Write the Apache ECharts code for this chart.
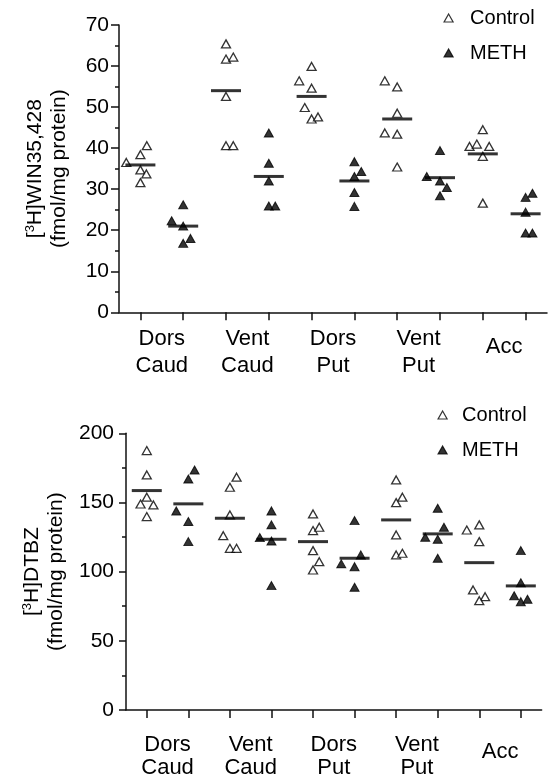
<!DOCTYPE html>
<html>
<head>
<meta charset="utf-8">
<script src="https://cdn.jsdelivr.net/npm/echarts@6/dist/echarts.min.js"></script>
<style>
    html, body{ margin: 0; padding: 0; background: #fff;}
    #chart{ width: 549px; height: 774px;}
</style>
</head>
<body>
<div id="chart"></div>
<script>
    // regions on the x axis, each one has a Control slot then a METH slot
    const regions = ['Dors\nCaud', 'Vent\nCaud', 'Dors\nPut', 'Vent\nPut', 'Acc'];
    const slots = ['1', '2', '3', '4', '5', '6', '7', '8', '9', '10'];

    // top panel: [3H]WIN35,428 binding, one inner list per region
    const winControl = [
        [36.5, 38.4, 40.6, 34.7, 33.7, 31.6],
        [65.4, 61.7, 62.2, 52.6, 40.6, 40.6],
        [59.9, 56.4, 54.6, 49.9, 47.1, 47.6],
        [56.4, 54.9, 48.5, 43.7, 43.4, 35.4],
        [44.5, 40.4, 41.0, 40.4, 38.0, 26.6]
    ];
    const winControlJitter = [
        [-0.33, 0, 0.15, 0, 0.14, 0],
        [0, 0, 0.17, 0, 0, 0.17],
        [0, -0.29, 0, -0.16, 0, 0.15],
        [-0.29, 0, 0, -0.29, 0, 0],
        [0, -0.31, -0.14, 0.15, 0, 0]
    ];
    const winMeth = [
        [22.3, 26.2, 21.0, 18.0, 16.8],
        [43.7, 36.3, 32.0, 25.9, 25.9],
        [36.7, 34.3, 33.1, 29.2, 25.8],
        [39.4, 33.1, 32.0, 30.4, 28.4],
        [28.0, 29.0, 24.4, 19.3, 19.3]
    ];
    const winMethJitter = [
        [-0.27, 0, 0, 0.17, 0],
        [0, 0, 0, 0, 0.15],
        [0, 0.16, 0, 0, 0],
        [0, -0.31, 0, 0.16, 0],
        [0, 0.16, 0, 0, 0.16]
    ];
    // group means, in slot order
    const winMeans = [35.9, 21.0, 54.0, 33.1, 52.6, 32.0, 47.1, 32.8, 38.6, 24.0];

    // bottom panel: [3H]DTBZ binding
    const dtbzControl = [
        [187.5, 169.9, 153.8, 148.9, 148.2, 139.8],
        [168.3, 161.0, 141.0, 126.0, 116.9, 116.9],
        [141.7, 129.7, 132.1, 115.2, 107.2, 101.2],
        [166.3, 153.8, 149.9, 126.5, 112.1, 113.3],
        [130.1, 133.8, 121.7, 86.8, 81.9, 79.0]
    ];
    const dtbzControlJitter = [
        [0, 0, 0, -0.15, 0.16, 0],
        [0.16, 0, 0, -0.16, 0, 0.16],
        [0, 0, 0.15, 0, 0.15, 0],
        [0, 0.15, 0, 0, 0, 0.15],
        [-0.3, 0, 0, -0.15, 0.14, 0]
    ];
    const dtbzMeth = [
        [173.5, 167.0, 143.9, 136.2, 121.7],
        [143.9, 133.8, 124.6, 122.2, 89.9],
        [136.9, 112.1, 105.6, 103.6, 88.7],
        [145.8, 132.1, 124.9, 123.4, 109.7],
        [115.2, 92.0, 82.6, 80.0, 78.3]
    ];
    const dtbzMethJitter = [
        [0.15, 0, -0.29, 0, 0],
        [0, 0, -0.28, 0, 0],
        [0, 0.15, -0.32, 0, 0],
        [0, 0.15, -0.3, 0, 0],
        [0, 0, -0.16, 0.16, 0]
    ];
    const dtbzMeans = [158.6, 149.0, 138.6, 123.4, 121.7, 109.7, 137.4, 127.3, 106.5, 89.7];

    const FONT = 'Liberation Sans';
    const INK = '#111';

    function points(values, jitter, slot){
        const out = [];
        values.forEach(function(group, i){
            group.forEach(function(v, k){
                out.push([2 * i + slot + jitter[i][k], v]);
            });
        });
        return out;
    }
    function meanPoints(means){
        return means.map(function(m, i){ return [i + 1, m]; });
    }

    function xAxes(grid, labelMargin, lh, accLh){
        return [
            {gridIndex: grid, type: 'value', min: 0.5, max: 10.5, show: false},
            {
                gridIndex: grid, type: 'category', position: 'bottom', data: slots, boundaryGap: true,
                axisLine: {show: true, onZero: false, lineStyle: {color: INK, width: 1.5}},
                axisTick: {show: true, alignWithLabel: true, interval: 0, length: 8, lineStyle: {color: INK, width: 1.5}},
                axisLabel: {show: false}
            },
            {
                gridIndex: grid, type: 'category', position: 'bottom', data: regions, boundaryGap: true,
                axisLine: {show: false}, axisTick: {show: false},
                axisLabel: {
                    interval: 0, margin: labelMargin, fontFamily: FONT, fontSize: 22, color: '#000', lineHeight: lh,
                    formatter: function(v){ return v.indexOf('\n') < 0 ? '{one|' + v + '}' : v; },
                    rich: {one: {fontFamily: FONT, fontSize: 22, color: '#000', lineHeight: accLh}}
                }
            }
        ];
    }

    function yAxis(grid, max, interval, name, margin, tickLen){
        return {
            gridIndex: grid, type: 'value', min: 0, max: max, interval: interval,
            axisLine: {show: true, onZero: false, lineStyle: {color: INK, width: 1.5}},
            axisTick: {show: true, length: tickLen, lineStyle: {color: INK, width: 1.5}},
            minorTick: {show: true, splitNumber: 2, length: 4, lineStyle: {color: INK, width: 1.5}},
            splitLine: {show: false},
            axisLabel: {margin: margin, fontFamily: FONT, fontSize: 21, color: '#000'},
            name: name, nameLocation: 'middle', nameRotate: 90, nameGap: 48,
            nameTextStyle: {
                fontFamily: FONT, fontSize: 21, color: '#000', lineHeight: 24, align: 'center',
                rich: {sup: {fontFamily: FONT, fontSize: 13, color: '#000', padding: [0, 0, 10, 0]}}
            }
        };
    }

    function dots(name, data, xi, yi, filled){
        return {
            name: name, type: 'scatter', xAxisIndex: xi, yAxisIndex: yi, data: data,
            symbol: 'triangle', symbolSize: [9, 8],
            itemStyle: filled ? {color: '#000', borderColor: '#000', borderWidth: 1}
                              : {color: '#fff', borderColor: '#000', borderWidth: 1.3},
            z: 3
        };
    }
    function meanBars(data, xi, yi){
        return {
            name: 'mean', type: 'scatter', xAxisIndex: xi, yAxisIndex: yi, data: data,
            symbol: 'rect', symbolSize: [30, 3], itemStyle: {color: '#000'}, z: 4
        };
    }
    function legend(left, top, textPad){
        return {
            data: ['Control', 'METH'], orient: 'vertical', left: left, top: top, padding: 0,
            itemWidth: 9, itemHeight: 8, itemGap: 15,
            itemStyle: {borderWidth: 1.2},
            textStyle: {fontFamily: FONT, fontSize: 20, color: '#000', padding: [0, 0, 0, textPad]}
        };
    }

    const chart = echarts.init(document.getElementById('chart'), null, {renderer: 'canvas'});
    chart.setOption({
        animation: false,
        backgroundColor: '#fff',
        grid: [
            {left: 119, top: 25, width: 428, height: 287.3, outerBoundsMode: 'none'},
            {left: 126, top: 433.3, width: 415.6, height: 276.7, outerBoundsMode: 'none'}
        ],
        xAxis: xAxes(0, 13, 27, 43).concat(xAxes(1, 23, 23, 38)),
        yAxis: [
            yAxis(0, 70, 10, '[{sup|3}H]WIN35,428\n(fmol/mg protein)', 10, 8),
            yAxis(1, 200, 50, '[{sup|3}H]DTBZ\n(fmol/mg protein)', 12, 7)
        ],
        legend: [
            legend(443.5, 8, 12),
            legend(437.5, 405, 10)
        ],
        series: [
            dots('Control', points(winControl, winControlJitter, 1), 0, 0, false),
            dots('METH', points(winMeth, winMethJitter, 2), 0, 0, true),
            meanBars(meanPoints(winMeans), 0, 0),
            dots('Control', points(dtbzControl, dtbzControlJitter, 1), 3, 1, false),
            dots('METH', points(dtbzMeth, dtbzMethJitter, 2), 3, 1, true),
            meanBars(meanPoints(dtbzMeans), 3, 1)
        ]
    });
</script>
</body>
</html>
